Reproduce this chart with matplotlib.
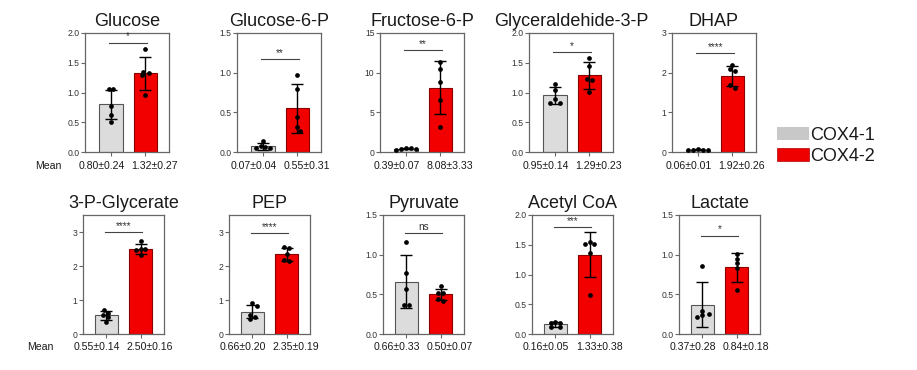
import numpy as np
import matplotlib
matplotlib.use("Agg")
import matplotlib.pyplot as plt
from matplotlib.patches import Patch

plt.rcParams['font.family'] = ['Liberation Sans', 'DejaVu Sans']

# ---------------- data ----------------
metabolites = ["Glucose", "Glucose-6-P", "Fructose-6-P", "Glyceraldehide-3-P", "DHAP",
               "3-P-Glycerate", "PEP", "Pyruvate", "Acetyl CoA", "Lactate"]
groups = ["COX4-1", "COX4-2"]
means_cox1 = [0.80, 0.07, 0.39, 0.95, 0.06, 0.55, 0.66, 0.66, 0.16, 0.37]
sd_cox1 = [0.24, 0.04, 0.07, 0.14, 0.01, 0.14, 0.20, 0.33, 0.05, 0.28]
means_cox2 = [1.32, 0.55, 8.08, 1.29, 1.92, 2.50, 2.35, 0.50, 1.33, 0.84]
sd_cox2 = [0.27, 0.31, 3.33, 0.23, 0.26, 0.16, 0.19, 0.07, 0.38, 0.18]
points_cox1 = [
    [1.06, 1.06, 0.78, 0.63, 0.50],
    [0.14, 0.05, 0.07, 0.05, 0.06],
    [0.45, 0.50, 0.35, 0.30, 0.35],
    [1.15, 1.05, 0.89, 0.83, 0.83],
    [0.05, 0.06, 0.07, 0.06, 0.06],
    [0.70, 0.62, 0.57, 0.50, 0.34],
    [0.91, 0.82, 0.57, 0.50, 0.44],
    [1.16, 0.77, 0.57, 0.36, 0.37],
    [0.18, 0.21, 0.18, 0.12, 0.12],
    [0.86, 0.29, 0.25, 0.22, 0.24],
]
points_cox2 = [
    [1.73, 1.35, 1.30, 1.33, 0.95],
    [0.97, 0.79, 0.44, 0.32, 0.27],
    [11.4, 10.5, 8.8, 6.6, 3.1],
    [1.58, 1.44, 1.23, 1.21, 1.01],
    [2.20, 2.04, 2.08, 1.62, 1.68],
    [2.75, 2.49, 2.49, 2.47, 2.31],
    [2.56, 2.54, 2.34, 2.14, 2.19],
    [0.60, 0.52, 0.52, 0.42, 0.44],
    [1.55, 1.51, 1.51, 1.36, 0.66],
    [1.01, 0.95, 0.89, 0.83, 0.55],
]
y_max = [2.0, 1.5, 15, 2.0, 3, 3.5, 3.5, 1.5, 2.0, 1.5]
y_tick_max = [2.0, 1.5, 15, 2.0, 3, 3, 3, 1.5, 2.0, 1.5]
y_step = [0.5, 0.5, 5, 0.5, 1, 1, 1, 0.5, 0.5, 0.5]
sig_labels = ["*", "**", "**", "*", "****", "****", "****", "ns", "***", "*"]
sig_heights = [1.84, 1.17, 12.8, 1.68, 2.49, 3.0, 2.96, 1.27, 1.79, 1.24]

# ---------------- style / layout ----------------
W, H = 917, 370
fig = plt.figure(figsize=(W / 100, H / 100), dpi=100)

col_gray = '#dcdcdc'
col_red = '#f20000'
edge_gray = '#555555'
edge_red = '#8a0000'
spine_col = '#666666'
text_col = '#1a1a1a'

row1_left = [85, 237, 380, 529, 672]
row2_left = [83, 229, 383, 532, 679]
rows = [(33, 152, 84, (-0.75, 1.68)), (215, 334, 81, (-0.68, 1.68))]


def swarm(vals, ymax, h_px, px_per_unit, d=4.8):
    """Simple beeswarm: spread overlapping points sideways, then centre each row."""
    vals = np.asarray(vals, float)
    ypx = vals / ymax * h_px
    offs = np.zeros(len(vals))
    placed = []
    cands = [0]
    for k in range(1, 8):
        cands += [k * 0.5 * d, -k * 0.5 * d]
    for i in np.argsort(-vals):
        for c in cands:
            ok = all((c - px) ** 2 + (ypx[i] - py) ** 2 >= (0.95 * d) ** 2 for px, py in placed)
            if ok:
                offs[i] = c
                placed.append((c, ypx[i]))
                break
    used = np.zeros(len(vals), bool)
    for i in range(len(vals)):
        if used[i]:
            continue
        grp = [j for j in range(len(vals)) if abs(ypx[j] - ypx[i]) < 0.6 * d]
        if len(grp) > 1:
            offs[grp] -= offs[grp].mean()
        used[grp] = True
    return offs / px_per_unit


for i, name in enumerate(metabolites):
    r = 0 if i < 5 else 1
    top, bot, wpx, xl = rows[r]
    left = (row1_left if r == 0 else row2_left)[i % 5]
    ax = fig.add_axes([left / W, 1 - bot / H, wpx / W, (bot - top) / H])
    hpx = bot - top
    ppu = wpx / (xl[1] - xl[0])

    xs = [0, 1]
    ax.bar(xs, [means_cox1[i], means_cox2[i]], width=0.68,
           color=[col_gray, col_red], edgecolor=[edge_gray, edge_red], linewidth=0.8, zorder=2)
    ax.errorbar(xs, [means_cox1[i], means_cox2[i]], yerr=[sd_cox1[i], sd_cox2[i]],
                fmt='none', ecolor='black', elinewidth=1.0, capsize=4.5, capthick=1.0, zorder=3)
    for x0, pts in zip(xs, [points_cox1[i], points_cox2[i]]):
        off = swarm(pts, y_max[i], hpx, ppu)
        ax.plot(x0 + off, pts, 'o', color='black', ms=3.4, mew=0, zorder=4)

    ax.set_xlim(*xl)
    ax.set_ylim(0, y_max[i])
    ticks = np.arange(0, y_tick_max[i] + 1e-9, y_step[i])
    ax.set_yticks(ticks)
    if y_step[i] >= 1:
        ax.set_yticklabels([f"{t:.0f}" for t in ticks])
    else:
        ax.set_yticklabels([f"{t:.1f}" for t in ticks])
    ax.set_xticks(xs)
    ax.set_xticklabels([])
    ax.tick_params(axis='both', length=3, width=0.8, color=spine_col, labelsize=6.2,
                   labelcolor='#333333', pad=1)
    for s in ax.spines.values():
        s.set_color(spine_col)
        s.set_linewidth(0.9)

    ax.set_title(name, fontsize=13, color=text_col, pad=5)

    # significance
    h = sig_heights[i]
    ax.plot([-0.05, 1.05], [h, h], color='#444444', lw=0.8, zorder=3)
    ax.annotate(sig_labels[i], xy=(0.5, h), xytext=(0, 1), textcoords='offset points',
                ha='center', va='bottom', fontsize=7.2, color='#333333')

    # mean +- sd labels
    yoff = -10.0 if r == 0 else -9.3
    ax.annotate(f"{means_cox1[i]:.2f}±{sd_cox1[i]:.2f}", xy=(0.5, 0),
                xycoords=('data', 'axes fraction'), xytext=(-2.5, yoff), textcoords='offset points',
                ha='right', va='center', fontsize=7.6, color=text_col, annotation_clip=False)
    ax.annotate(f"{means_cox2[i]:.2f}±{sd_cox2[i]:.2f}", xy=(0.5, 0),
                xycoords=('data', 'axes fraction'), xytext=(2.5, yoff), textcoords='offset points',
                ha='left', va='center', fontsize=7.6, color=text_col, annotation_clip=False)

fig.text(61 / W, 1 - 166 / H, "Mean", ha='right', va='center', fontsize=7.6, color=text_col)
fig.text(53 / W, 1 - 346.5 / H, "Mean", ha='right', va='center', fontsize=7.6, color=text_col)

handles = [Patch(facecolor='#c8c8c8', edgecolor='none'), Patch(facecolor='#ee0000', edgecolor='#b00000', linewidth=0.5)]
fig.legend(handles, groups, loc='upper left', bbox_to_anchor=(777 / W, 1 - 127 / H),
           frameon=False, fontsize=13, handlelength=1.75, handleheight=0.75,
           handletextpad=0.1, labelspacing=0.22, borderpad=0, borderaxespad=0,
           labelcolor=text_col)

fig.savefig("out.png", dpi=100)
